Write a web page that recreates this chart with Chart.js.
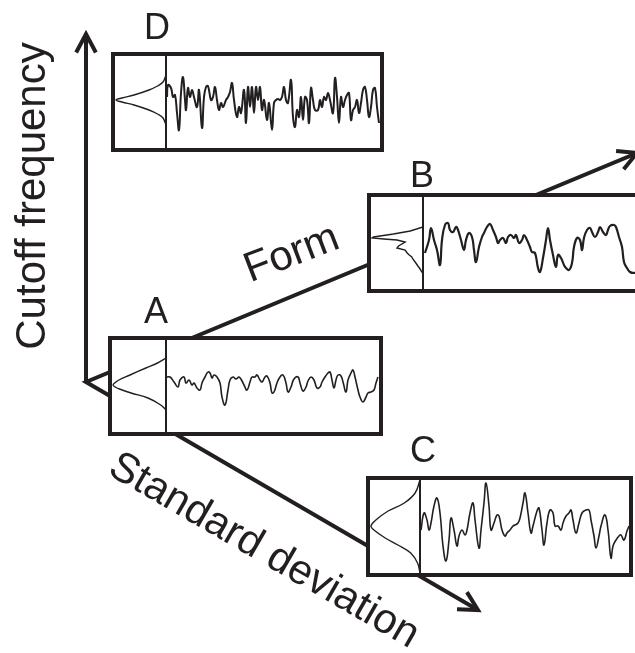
<!DOCTYPE html>
<html>
<head>
<meta charset="utf-8">
<script src="https://cdn.jsdelivr.net/npm/chart.js@4.4.1/dist/chart.umd.min.js"></script>
<style>
  html, body { margin: 0; background: #fff; }
  #stage { position: relative; width: 635px; height: 653px; overflow: hidden; }
  #bg { position: absolute; left: 0; top: 0; }
  .panel { position: absolute; box-sizing: border-box; border: 4px solid #231f20; background: #fff; }
  .panel canvas { position: absolute; top: 0; }
  .split { position: absolute; top: 0; bottom: 0; width: 1.5px; background: #231f20; }
</style>
</head>
<body>
<div id="stage"><canvas id="bg" width="635" height="653"></canvas></div>
<script>
const ink = "#231f20";

// panel D (high cutoff frequency)
const dAmp = [25, 18, 14, 10, 5, 2, 0, -2, -5, -10, -14, -18, -25];
const dDen = [0, 0.06, 0.17, 0.34, 0.64, 0.88, 1, 0.88, 0.64, 0.34, 0.17, 0.06, 0];
const dT = [1,2,5,7,9,11,13,15,17,19,20,22,24,26,28,31,33,36,38,40,42,45,47,49,51,53,55,57,60,62,64,66,68,71,73,75,78,80,82,84,86,88,90,92,94,96,98,101,103,106,108,110,112,114,116,118,120,122,125,127,129,131,133,135,137,139,141,143,145,147,149,152,154,156,158,160,162,164,167,169,171,173,175,177,179,181,183,185,187,189,191,193,195,197,199,201,203,205,207,209,211,213];
const dV = [3,15,12,3,5,-13,-30,7,23,0,-10,12,3,10,3,-7,10,-28,3,13,14,0,3,13,0,-10,-3,-7,0,3,8,17,0,-17,-7,-13,10,-23,13,-7,13,-13,13,0,13,-10,0,-20,-3,-30,-3,0,1,0,3,13,0,-3,20,-17,-27,-10,-17,3,-20,3,0,-23,12,0,-10,-10,0,-7,3,0,7,0,-13,22,3,-23,3,-7,0,5,7,-20,-10,-7,0,-13,-3,10,13,0,-17,-7,10,12,-7,-23];

// panel A (reference)
const aAmp = [27, 22, 17, 10, 5, 2, 0, -2, -4, -8, -13, -20, -25];
const aDen = [0, 0.16, 0.38, 0.68, 0.89, 0.97, 1, 0.96, 0.88, 0.66, 0.34, 0.1, 0];
const aT = [1,4,8,12,14,18,20,23,26,28,31,34,36,39,42,44,46,48,51,54,56,59,62,64,67,70,73,76,78,81,84,86,89,91,94,96,99,101,104,106,108,111,114,117,120,122,125,128,132,134,137,140,142,145,148,151,154,156,159,162,164,166,168,170,172,175,177,180,182,185,187,189,192,194,197,200,202,205,208,210,212];
const aV = [8,8,3,-2,5,8,2,5,0,2,-3,-5,2,8,13,12,7,10,8,2,-12,-20,-5,5,8,6,8,4,0,-5,3,8,8,10,5,3,8,9,2,-8,-7,2,8,10,2,-7,-2,6,8,2,-6,-2,4,8,5,-3,-2,3,8,12,13,5,-3,5,10,9,3,-7,5,12,15,8,-5,-12,-17,-12,-8,-7,-5,2,8];

// panel B (different form)
const bAmp = [13, 9, 6, 3, 2, 1, 0, -2, -6, -8, -10, -13, -15, -17, -19, -23, -26, -28, -32, -34];
const bDen = [0, 0.25, 0.58, 0.97, 1, 0.77, 0.51, 0.35, 0.48, 0.51, 0.35, 0.31, 0.27, 0.22, 0.2, 0.14, 0.1, 0.07, 0.02, 0];
const bT = [2,6,8,11,14,17,19,22,25,27,30,33,35,38,41,43,46,49,51,53,56,59,61,64,67,70,73,75,77,80,83,85,88,91,93,96,99,101,104,107,109,112,115,117,120,123,125,127,130,133,135,138,141,143,146,149,151,154,157,159,161,164,167,169,172,175,177,180,183,185,187,191,193,196,199,201,204,207,211,213];
const bV = [-13,0,12,0,-10,-25,0,15,17,10,8,13,10,0,-10,0,7,3,-10,-22,-7,3,7,13,16,10,3,-3,0,2,-3,3,5,2,5,-3,0,5,0,-7,-12,-13,-28,-32,-18,0,12,0,-15,-27,-15,-18,-25,-28,-30,-23,-7,2,0,-10,2,10,12,8,3,8,13,8,5,10,14,15,13,3,-7,-22,-28,-32,-33,-32];

// panel C (larger standard deviation)
const cAmp = [48, 35, 25, 17, 8, 2, -2, -10, -17, -25, -35, -45];
const cDen = [0, 0.1, 0.32, 0.65, 0.9, 1, 0.94, 0.71, 0.45, 0.19, 0.05, 0];
const cT = [1,4,7,9,11,14,17,20,23,26,29,31,34,37,39,42,45,47,50,53,55,59,61,64,66,69,71,74,77,79,82,85,87,90,93,95,98,100,103,105,108,111,113,117,119,122,124,127,130,133,135,138,141,143,146,149,151,153,156,159,162,166,169,171,174,176,179,181,185,188,191,193,196,199,201,204,207,209];
const cV = [-2,15,8,-2,5,22,30,15,-18,-33,-12,10,-2,-18,-8,-2,-7,-2,15,25,8,-20,-2,25,45,22,-2,5,13,12,-2,-8,-5,-2,2,3,5,10,25,35,15,-5,2,17,20,-2,-17,5,18,15,2,2,-2,5,12,15,18,8,-5,5,15,18,18,8,-8,-20,-8,2,13,-2,-30,-18,-12,-8,-7,-12,-3,2];

const axisTitles = ["Cutoff frequency", "Form", "Standard deviation"];

const layout = {
  D: { x: 111, y: 52, w: 273, h: 100, split: 55, yMin: -48, yMax: 44, lw: 2, lbl: [157, 39] },
  B: { x: 367, y: 193, w: 271.5, h: 100, split: 56, yMin: -49, yMax: 43, lw: 2.2, lbl: [422, 187], jag: true },
  A: { x: 108, y: 336, w: 275, h: 100, split: 58, yMin: -47, yMax: 45, lw: 1.6, lbl: [156, 323] },
  C: { x: 366, y: 476, w: 267, h: 101, split: 54, yMin: -45, yMax: 48, lw: 1.6, lbl: [423, 462] }
};

const stage = document.getElementById("stage");

const quiet = {
  responsive: false,
  animation: false,
  events: [],
  devicePixelRatio: 1,
  layout: { padding: 0 },
  plugins: { legend: { display: false }, tooltip: { enabled: false } }
};

// arrows and texts on the background
const axesPlugin = {
  id: "axes",
  afterDraw(chart) {
    const ctx = chart.ctx;
    const o = [86, 382];
    const tips = [[86, 34], [637, 153], [478, 610]];
    ctx.save();
    ctx.strokeStyle = ink;
    ctx.lineWidth = 4;
    ctx.lineJoin = "miter";
    ctx.beginPath();
    ctx.moveTo(tips[0][0], tips[0][1]);
    ctx.lineTo(o[0], o[1] + 1);
    ctx.moveTo(tips[1][0], tips[1][1]);
    ctx.lineTo(o[0], o[1]);
    ctx.lineTo(tips[2][0], tips[2][1]);
    ctx.stroke();
    tips.forEach(([tx, ty]) => {
      const dx = tx - o[0], dy = ty - o[1];
      const len = Math.hypot(dx, dy);
      const ux = dx / len, uy = dy / len;
      const a = 28 * Math.PI / 180, L = 21;
      const arm = (s) => {
        const c = Math.cos(s * a), sn = Math.sin(s * a);
        return [tx - L * (ux * c - uy * sn), ty - L * (ux * sn + uy * c)];
      };
      const p1 = arm(1), p2 = arm(-1);
      ctx.beginPath();
      ctx.moveTo(p1[0], p1[1]);
      ctx.lineTo(tx, ty);
      ctx.lineTo(p2[0], p2[1]);
      ctx.stroke();
    });

    ctx.fillStyle = ink;
    ctx.textAlign = "center";
    ctx.textBaseline = "alphabetic";
    ctx.font = '36px "Liberation Sans", Arial, sans-serif';
    Object.keys(layout).forEach((k) => {
      ctx.fillText(k, layout[k].lbl[0], layout[k].lbl[1]);
    });

    ctx.font = '42px "Liberation Sans", Arial, sans-serif';
    const place = [[45, 196, -90], [296, 265, -21], [258, 561, 30]];
    axisTitles.forEach((txt, i) => {
      const [px, py, deg] = place[i];
      ctx.save();
      ctx.translate(px, py);
      ctx.rotate(deg * Math.PI / 180);
      ctx.fillText(txt, 0, 0);
      ctx.restore();
    });
    ctx.restore();
  }
};

new Chart(document.getElementById("bg"), {
  type: "scatter",
  data: { datasets: [] },
  options: { ...quiet, scales: { x: { display: false }, y: { display: false } } },
  plugins: [axesPlugin]
});

function buildPanel(name, amp, den, t, v) {
  const opt = layout[name];
  const box = document.createElement("div");
  box.className = "panel";
  box.style.left = opt.x + "px";
  box.style.top = opt.y + "px";
  box.style.width = opt.w + "px";
  box.style.height = opt.h + "px";
  stage.appendChild(box);

  const innerH = opt.h - 8;
  const left = opt.split - 4;
  const waveW = Math.round(opt.w - 8 - left);

  const c1 = document.createElement("canvas");
  c1.width = left; c1.height = innerH; c1.style.left = "0px";
  const c2 = document.createElement("canvas");
  c2.width = waveW; c2.height = innerH; c2.style.left = left + "px";
  const sp = document.createElement("div");
  sp.className = "split";
  sp.style.left = (left - 0.75) + "px";
  box.append(c1, c2, sp);

  const yScale = { min: opt.yMin, max: opt.yMax, display: false };

  new Chart(c1, {
    type: "scatter",
    data: {
      datasets: [{
        data: amp.map((a, i) => ({ x: den[i], y: a })),
        showLine: true,
        borderColor: ink,
        borderWidth: 1.4,
        pointRadius: 0,
        tension: opt.jag ? 0 : 0.4
      }]
    },
    options: {
      ...quiet,
      scales: {
        x: { type: "linear", reverse: true, min: 0, max: 1.02, display: false },
        y: yScale
      }
    }
  });

  new Chart(c2, {
    type: "scatter",
    data: {
      datasets: [{
        data: t.map((x, i) => ({ x: x, y: v[i] })),
        showLine: true,
        borderColor: ink,
        borderWidth: opt.lw,
        pointRadius: 0,
        tension: 0.45
      }]
    },
    options: {
      ...quiet,
      scales: {
        x: { type: "linear", min: 0, max: waveW, display: false },
        y: yScale
      }
    }
  });
}

buildPanel("D", dAmp, dDen, dT, dV);
buildPanel("B", bAmp, bDen, bT, bV);
buildPanel("A", aAmp, aDen, aT, aV);
buildPanel("C", cAmp, cDen, cT, cV);
</script>
</body>
</html>
